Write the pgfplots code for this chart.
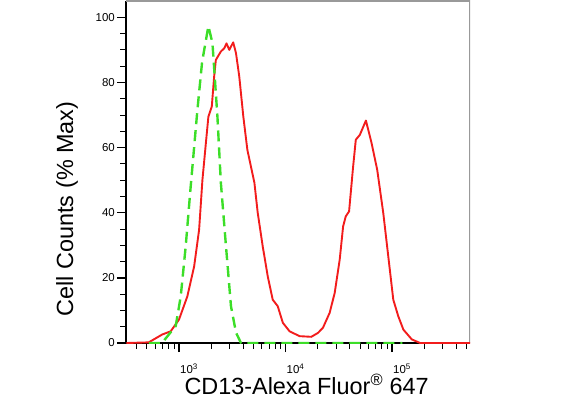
\documentclass[border=0pt]{standalone}
\usepackage{fontspec}
\setmainfont{Liberation Sans}
\usepackage{pgfplots}
\pgfplotsset{compat=1.18}
\definecolor{cred}{RGB}{242,28,28}
\definecolor{cgreen}{RGB}{60,222,40}
\begin{document}
\begin{tikzpicture}[x=1bp,y=1bp]
\path[use as bounding box] (0,0) rectangle (571,409);
\begin{axis}[
  at={(126bp,66bp)}, anchor=south west,
  scale only axis, width=344bp, height=342bp,
  xmode=log, xmin=318, xmax=540000, ymin=0, ymax=105,
  axis x line*=bottom, axis y line*=left,
  axis line style={black, line width=1.2pt},
  xtick={1000,10000,100000},
  xticklabels={10\textsuperscript{3},10\textsuperscript{4},10\textsuperscript{5}},
  minor xtick={400,500,600,700,800,900,2000,3000,4000,5000,6000,7000,8000,9000,20000,30000,40000,50000,60000,70000,80000,90000,200000,300000,400000,500000},
  ytick={0,20,40,60,80,100},
  minor ytick={5,10,15,25,30,35,45,50,55,65,70,75,85,90,95},
  tick align=outside,
  major tick length=9bp, minor tick length=6bp,
  major tick style={black, line width=1.5pt},
  minor tick style={black, line width=0.9pt},
  /pgf/number format/assume math mode=true,
  yticklabel style={font=\fontsize{11.5}{13}\selectfont, inner sep=2bp},
  xticklabel style={font=\fontsize{11.5}{13}\selectfont, anchor=north, xshift=10bp, yshift=-8bp},
  xlabel={CD13-Alexa Fluor\textsuperscript{®} 647},
  ylabel={Cell Counts (\% Max)},
  label style={font=\fontsize{23.5}{27}\selectfont},
  xlabel style={at={(axis description cs:0.525,-0.152)}, anchor=base},
  ylabel style={at={(axis description cs:-0.154,0.392)}, anchor=base, rotate=0},
  clip=true,
]
\draw[gray!80, line width=1.5pt] (rel axis cs:0,1) -- (rel axis cs:1,1) -- (rel axis cs:1,0);
\addplot[cred, line width=1.9pt, line join=round] coordinates {
(320,0) (520,0.2) (695,2.6) (836,3.6) (1000,7.2) (1197,14.3) (1387,23.5)
(1545,34.8) (1660,50.1) (1800,62.4) (1888,69.5) (2032,72.6) (2138,81.8)
(2218,86.9) (2472,89.5) (2661,90.5) (2793,92.0) (2965,90.0) (3228,92.3)
(3428,89.0) (3681,81.8) (4018,69.5) (4385,59.3) (5105,49.2) (5483,40.0)
(6109,29.7) (6808,20.5) (7586,13.3) (8453,11.3) (9441,6.2) (10914,3.6)
(13552,2.1) (17458,1.9) (20184,3.1) (22491,4.7) (26002,9.3) (28973,15.4)
(32282,25.6) (34753,35.8) (36813,38.9) (39537,40.4) (43152,54.2)
(45709,62.4) (49888,63.9) (56885,68.3) (64269,61.4) (72611,53.2)
(82794,39.9) (92257,26.6) (102802,13.3) (114551,8.2) (127938,4.1)
(153462,1.1) (183654,0) (540000,0)
};
\addplot[cgreen, line width=2.4pt, dash pattern=on 11bp off 6bp, line join=round] coordinates {
(520,0) (692,0) (931,5.2) (1038,14.3) (1156,29.7) (1288,48.1) (1489,71.6)
(1648,86.3) (1888,97.3) (2061,92.1) (2296,69.4) (2472,49.2) (2761,29.7)
(3076,11.3) (3428,3.2) (3819,0) (125000,0)
};
\end{axis}
\end{tikzpicture}
\end{document}
